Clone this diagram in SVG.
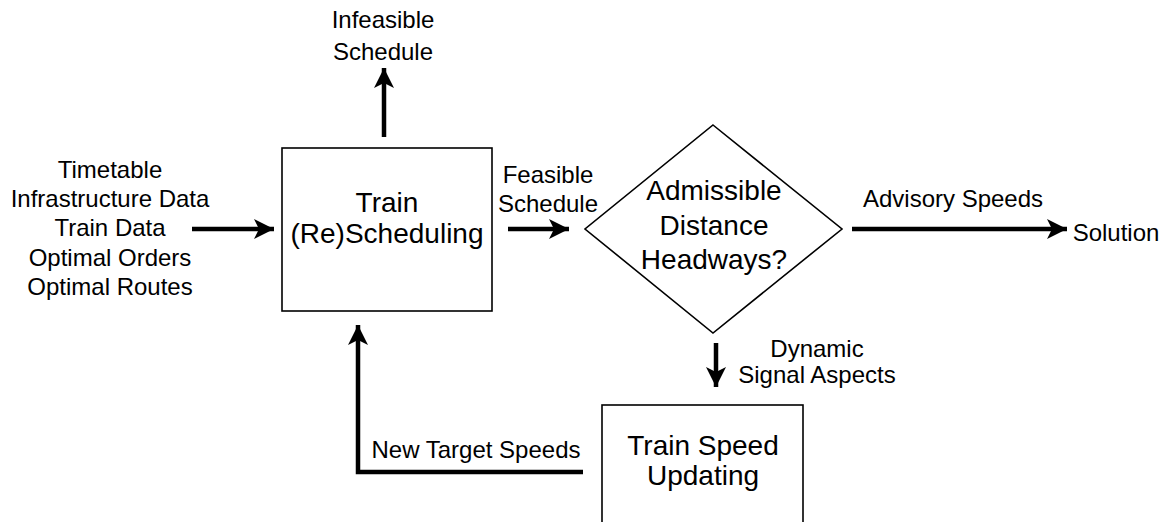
<svg xmlns="http://www.w3.org/2000/svg" width="1166" height="522" viewBox="0 0 1166 522">
<defs>
<style>
text{font-family:"Liberation Sans",Arial,sans-serif;fill:#000;text-anchor:middle}
.s{font-size:24px}
.l{font-size:28px}
.node{fill:#fff;stroke:#000;stroke-width:1.6}
.c{fill:none;stroke:#000;stroke-width:4.5}
</style>
<marker id="ah" markerUnits="userSpaceOnUse" viewBox="0 0 20 20" markerWidth="20" markerHeight="20" refX="20" refY="10" orient="auto">
<path d="M0,0 L20,10 L0,20 L5,10 z" fill="#000"/>
</marker>
</defs>
<rect width="1166" height="522" fill="#fff"/>
<g id="inputs">
<text class="s" x="110" y="178">Timetable</text>
<text class="s" x="110" y="207">Infrastructure Data</text>
<text class="s" x="110" y="236">Train Data</text>
<text class="s" x="110" y="266">Optimal Orders</text>
<text class="s" x="110" y="295">Optimal Routes</text>
</g>
<g id="scheduling">
<rect class="node" x="282" y="148" width="210" height="163"/>
<text class="l" x="387" y="212">Train</text>
<text class="l" x="387" y="243">(Re)Scheduling</text>
</g>
<g id="decision">
<polygon class="node" points="713,125 842,229 713,333 585,229"/>
<text class="l" x="714" y="200">Admissible</text>
<text class="l" x="714" y="235">Distance</text>
<text class="l" x="714" y="269">Headways?</text>
</g>
<g id="updating">
<rect class="node" x="602" y="405" width="201" height="130"/>
<text class="l" x="703" y="455">Train Speed</text>
<text class="l" x="703" y="485">Updating</text>
</g>
<g id="infeasible">
<text class="s" x="383" y="28">Infeasible</text>
<text class="s" x="383" y="60">Schedule</text>
</g>
<g id="solution">
<text class="s" x="1116" y="241">Solution</text>
</g>
<g id="connectors">
<line class="c" x1="192" y1="229" x2="274" y2="229" marker-end="url(#ah)"/>
<line class="c" x1="384" y1="137" x2="384" y2="68" marker-end="url(#ah)"/>
<line class="c" x1="508" y1="229" x2="569" y2="229" marker-end="url(#ah)"/>
<line class="c" x1="852" y1="229" x2="1067" y2="229" marker-end="url(#ah)"/>
<line class="c" x1="716" y1="343" x2="716" y2="387" marker-end="url(#ah)"/>
<polyline class="c" points="583,472 358,472 358,325" marker-end="url(#ah)"/>
<text class="s" x="548" y="183">Feasible</text>
<text class="s" x="548" y="212">Schedule</text>
<text class="s" x="953" y="207">Advisory Speeds</text>
<text class="s" x="817" y="357">Dynamic</text>
<text class="s" x="817" y="383">Signal Aspects</text>
<text class="s" x="476" y="458">New Target Speeds</text>
</g>
</svg>
